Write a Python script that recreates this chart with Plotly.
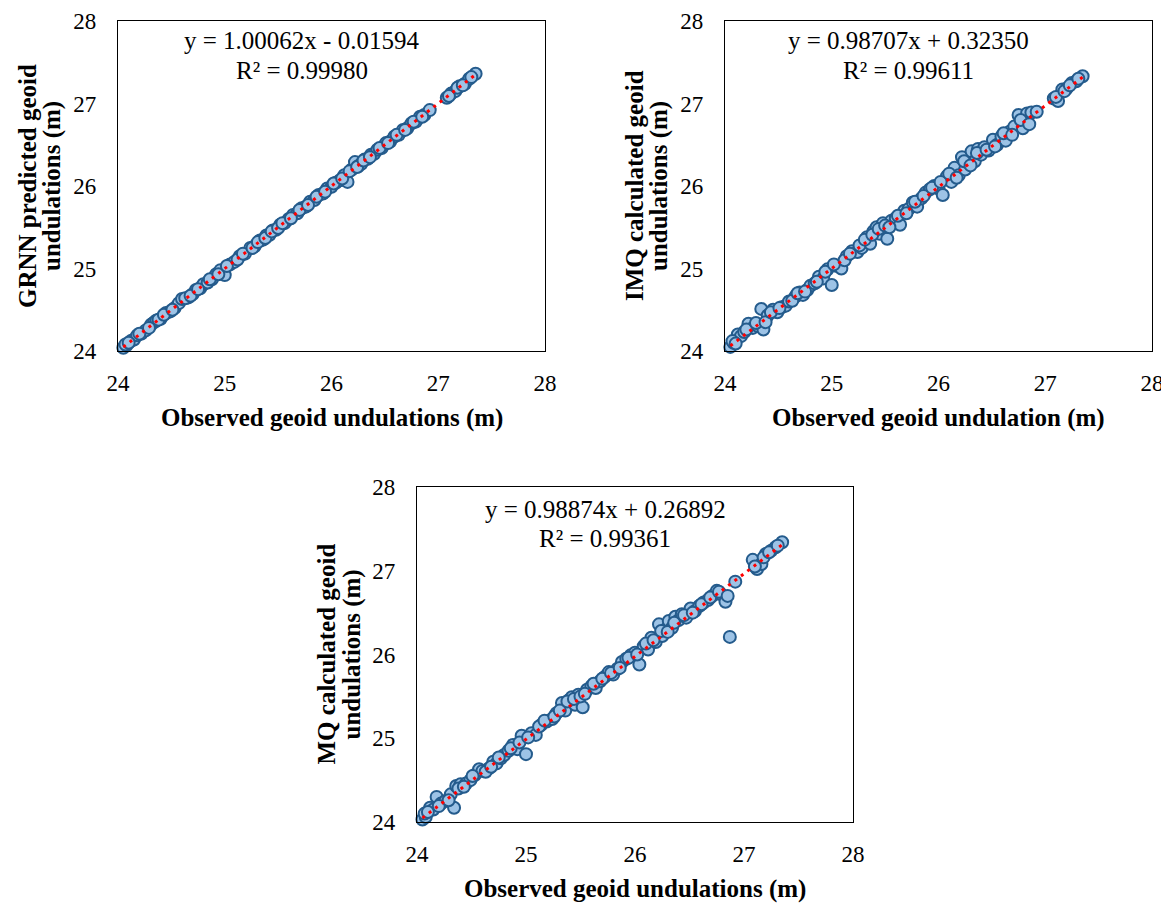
import plotly.graph_objects as go

W, H = 1169, 903
OFF = 8  # page body margin of the browser

observed_a = [24.05, 24.08, 24.12, 24.15, 24.18, 24.22, 24.26, 24.31, 24.34, 24.36,
              24.40, 24.45, 24.49, 24.53, 24.57, 24.60, 24.66, 24.70, 24.73, 24.77,
              24.80, 24.84, 24.88, 24.92, 24.96, 25.00, 25.05, 25.09, 25.14, 25.19,
              25.24, 25.28, 25.33, 25.36, 25.39, 25.42, 25.45, 25.48, 25.52, 25.56,
              25.60, 25.64, 25.68, 25.72, 25.76, 25.80, 25.84, 25.88, 25.92, 25.96,
              26.00, 26.04, 26.08, 26.12, 26.15, 26.19, 26.22, 26.25, 26.28, 26.31,
              26.34, 26.37, 26.40, 26.43, 26.47, 26.51, 26.55, 26.59, 26.63, 26.67,
              26.71, 26.75, 26.79, 26.83, 26.87, 26.92, 27.08, 27.12, 27.16, 27.20,
              27.25, 27.29, 27.35]
observed_b = [24.07, 24.10, 24.20, 24.29, 24.38, 24.43, 24.51, 24.63, 24.68, 24.75,
              24.86, 24.94, 25.02, 25.12, 25.17, 25.26, 25.31, 25.38, 25.44, 25.50,
              25.54, 25.62, 25.70, 25.78, 25.86, 25.94, 26.02, 26.10, 26.17, 26.24,
              26.30, 26.36, 26.45, 26.53, 26.61, 26.69, 26.77, 26.85, 27.10, 27.18,
              27.23, 27.31]

grnn_a = [24.04, 24.07, 24.12, 24.14, 24.19, 24.21, 24.25, 24.32, 24.35, 24.37,
          24.39, 24.46, 24.48, 24.52, 24.58, 24.63, 24.65, 24.69, 24.74, 24.76,
          24.81, 24.83, 24.87, 24.93, 24.98, 24.92, 25.05, 25.08, 25.15, 25.18,
          25.25, 25.27, 25.34, 25.35, 25.40, 25.41, 25.46, 25.47, 25.53, 25.55,
          25.60, 25.65, 25.67, 25.73, 25.75, 25.81, 25.83, 25.89, 25.91, 25.97,
          25.99, 26.04, 26.07, 26.13, 26.05, 26.20, 26.29, 26.24, 26.27, 26.32,
          26.33, 26.38, 26.39, 26.44, 26.46, 26.52, 26.54, 26.60, 26.62, 26.68,
          26.70, 26.76, 26.78, 26.84, 26.86, 26.92, 27.07, 27.12, 27.15, 27.21,
          27.24, 27.30, 27.36]
grnn_b = [24.08, 24.10, 24.21, 24.28, 24.38, 24.44, 24.50, 24.64, 24.67, 24.75,
          24.87, 24.93, 25.03, 25.11, 25.18, 25.25, 25.32, 25.37, 25.45, 25.49,
          25.55, 25.61, 25.71, 25.77, 25.87, 25.93, 26.03, 26.09, 26.18, 26.23,
          26.31, 26.35, 26.46, 26.52, 26.62, 26.68, 26.78, 26.84, 27.09, 27.19,
          27.22, 27.32]

imq_a = [24.05, 24.10, 24.20, 24.18, 24.23, 24.33, 24.28, 24.30, 24.51, 24.26,
         24.43, 24.50, 24.47, 24.53, 24.55, 24.60, 24.66, 24.71, 24.68, 24.74,
         24.79, 24.82, 24.90, 24.88, 24.99, 24.80, 25.03, 25.00, 25.15, 25.21,
         25.20, 25.25, 25.38, 25.30, 25.45, 25.50, 25.42, 25.55, 25.36, 25.58,
         25.61, 25.53, 25.70, 25.72, 25.80, 25.75, 25.85, 25.92, 25.96, 26.00,
         25.97, 25.89, 26.12, 26.05, 26.22, 26.13, 26.35, 26.20, 26.28, 26.42,
         26.30, 26.45, 26.38, 26.47, 26.43, 26.56, 26.50, 26.60, 26.55, 26.66,
         26.72, 26.86, 26.70, 26.88, 26.89, 26.90, 27.06, 27.03, 27.17, 27.18,
         27.25, 27.27, 27.33]
imq_b = [24.12, 24.09, 24.26, 24.34, 24.35, 24.47, 24.52, 24.61, 24.70, 24.72,
         24.84, 24.96, 25.05, 25.10, 25.18, 25.28, 25.35, 25.41, 25.48, 25.52,
         25.50, 25.64, 25.67, 25.81, 25.88, 25.98, 26.05, 26.15, 26.10, 26.30,
         26.25, 26.40, 26.44, 26.48, 26.64, 26.62, 26.80, 26.75, 27.08, 27.15,
         27.22, 27.30]

mq_a = [24.03, 24.06, 24.17, 24.15, 24.30, 24.22, 24.25, 24.33, 24.17, 24.43,
        24.45, 24.46, 24.50, 24.56, 24.63, 24.61, 24.64, 24.72, 24.70, 24.76,
        24.80, 24.85, 24.92, 24.87, 25.03, 24.81, 25.06, 25.04, 25.16, 25.20,
        25.23, 25.30, 25.42, 25.33, 25.45, 25.49, 25.40, 25.52, 25.37, 25.58,
        25.62, 25.60, 25.68, 25.73, 25.79, 25.76, 25.83, 25.91, 25.95, 25.99,
        26.02, 25.88, 26.10, 26.06, 26.20, 26.15, 26.36, 26.22, 26.30, 26.40,
        26.32, 26.45, 26.41, 26.48, 26.44, 26.55, 26.52, 26.58, 26.62, 26.65,
        26.70, 26.76, 26.72, 26.63, 26.21, 26.87, 27.13, 27.02, 27.08, 27.20,
        27.24, 27.28, 27.34]
mq_b = [24.10, 24.12, 24.19, 24.26, 24.40, 24.42, 24.55, 24.60, 24.66, 24.77,
        24.88, 24.95, 25.01, 25.14, 25.21, 25.26, 25.33, 25.44, 25.47, 25.50,
        25.53, 25.65, 25.71, 25.78, 25.84, 25.96, 26.00, 26.13, 26.17, 26.28,
        26.27, 26.38, 26.47, 26.50, 26.60, 26.68, 26.75, 26.70, 27.05, 27.16,
        27.22, 27.30]

tick_vals = [24, 25, 26, 27, 28]
tick_text = ["24", "25", "26", "27", "28"]

observed = observed_a + observed_b

panels = [
    dict(y=grnn_a + grnn_b, slope=1.00062, icpt=-0.01594,
         eq="y = 1.00062x - 0.01594", r2="R² = 0.99980",
         ytitle=["GRNN predicted geoid", "undulations (m)"],
         xtitle="Observed geoid undulations (m)"),
    dict(y=imq_a + imq_b, slope=0.98707, icpt=0.32350,
         eq="y = 0.98707x + 0.32350", r2="R² = 0.99611",
         ytitle=["IMQ calculated geoid", "undulations (m)"],
         xtitle="Observed geoid undulation (m)"),
    dict(y=mq_a + mq_b, slope=0.98874, icpt=0.26892,
         eq="y = 0.98874x + 0.26892", r2="R² = 0.99361",
         ytitle=["MQ calculated geoid", "undulations (m)"],
         xtitle="Observed geoid undulations (m)"),
]

# plot-area boxes in screen pixels: left, right, top, bottom
boxes = [(118, 545, 21, 351), (725, 1152, 21, 351), (417, 853, 487, 822)]
# equation first-line y, second-line y (screen pixels)
eq_rows = [(40, 70), (40, 70), (509, 538)]

FONT = "Liberation Serif, Times New Roman, serif"

def px(x):
    return (x - OFF) / W

def py(y):
    return 1 - (y - OFF) / H

fig = go.Figure()
annotations = []

for i, (p, b, er) in enumerate(zip(panels, boxes, eq_rows)):
    n = "" if i == 0 else str(i + 1)
    xa, ya = "x" + n, "y" + n
    fig.add_trace(go.Scatter(
        x=observed, y=p["y"], mode="markers", xaxis=xa, yaxis=ya,
        marker=dict(size=12, color="#9dc3e6", line=dict(color="#245b8c", width=2)),
        cliponaxis=False, showlegend=False))
    xmin, xmax = min(observed), max(observed)
    fig.add_trace(go.Scatter(
        x=[xmin, xmax], y=[p["slope"] * xmin + p["icpt"], p["slope"] * xmax + p["icpt"]],
        mode="lines", xaxis=xa, yaxis=ya,
        line=dict(color="#ff0000", width=3, dash="3px,5px"),
        cliponaxis=False, showlegend=False))

    L, R, T, B = b
    common = dict(range=[24, 28], tickvals=tick_vals, ticktext=tick_text,
                  showgrid=False, zeroline=False, showline=True, mirror=True,
                  linecolor="#000000", linewidth=1.4, ticks="outside",
                  tickcolor="rgba(0,0,0,0)", automargin=False,
                  ticklabeloverflow="allow",
                  tickfont=dict(family=FONT, size=23, color="#000000"))
    fig.layout["xaxis" + n] = dict(common, domain=[px(L), px(R)], anchor=ya, ticklen=11)
    fig.layout["yaxis" + n] = dict(common, domain=[py(B), py(T)], anchor=xa, ticklen=16)

    cx = (L + R) / 2
    cy = (T + B) / 2
    annotations.append(dict(x=px(cx - 30), y=py(er[0]), xref="paper", yref="paper",
                            text=p["eq"], showarrow=False, xanchor="center", yanchor="middle",
                            font=dict(family=FONT, size=25, color="#000000")))
    annotations.append(dict(x=px(cx - 30), y=py(er[1]), xref="paper", yref="paper",
                            text=p["r2"], showarrow=False, xanchor="center", yanchor="middle",
                            font=dict(family=FONT, size=25, color="#000000")))
    annotations.append(dict(x=px(cx), y=py(B + 67), xref="paper", yref="paper",
                            text="<b>" + p["xtitle"] + "</b>", showarrow=False,
                            xanchor="center", yanchor="middle",
                            font=dict(family=FONT, size=25, color="#000000")))
    for k, line in enumerate(p["ytitle"]):
        annotations.append(dict(x=px(L - 91 + 25 * k), y=py(cy), xref="paper", yref="paper",
                                text="<b>" + line + "</b>", showarrow=False, textangle=-90,
                                xanchor="center", yanchor="middle",
                                font=dict(family=FONT, size=25, color="#000000")))

fig.update_layout(width=W, height=H, margin=dict(l=0, r=0, t=0, b=0, pad=0),
                  paper_bgcolor="#ffffff", plot_bgcolor="#ffffff",
                  annotations=annotations, showlegend=False)

fig.write_html("out.html")
